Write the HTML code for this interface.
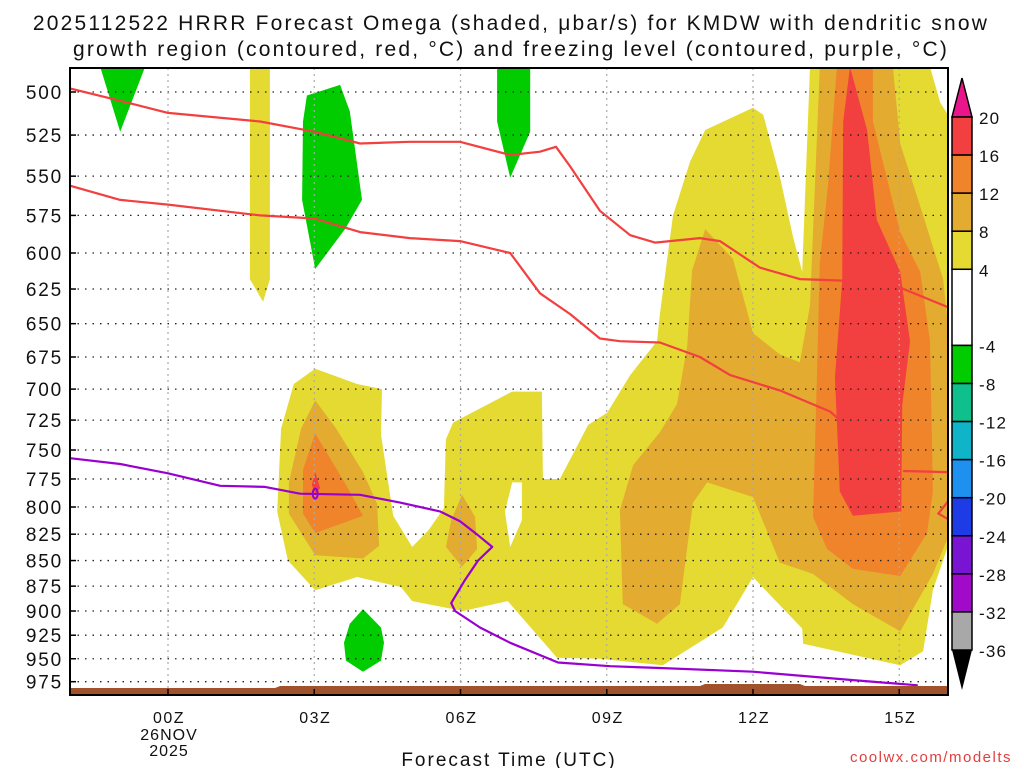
<!DOCTYPE html>
<html><head><meta charset="utf-8">
<style>
html,body{margin:0;padding:0;background:#fff;}
body{width:1024px;height:768px;overflow:hidden;font-family:"Liberation Sans",sans-serif;}
svg text{font-family:"Liberation Sans",sans-serif;}
</style></head>
<body>
<svg id="chart" width="1024" height="768" viewBox="0 0 1024 768" xmlns="http://www.w3.org/2000/svg">
<rect width="1024" height="768" fill="#fff"/>
<text x="511" y="30" text-anchor="middle" font-size="21" letter-spacing="2.2" fill="#111">2025112522 HRRR Forecast Omega (shaded, μbar/s) for KMDW with dendritic snow</text>
<text x="511" y="56" text-anchor="middle" font-size="21" letter-spacing="2.2" fill="#111">growth region (contoured, red, °C) and freezing level (contoured, purple, °C)</text>
<g id="fills"></g>
<g id="grid"></g>
<g id="lines"></g>
<g id="axes"></g>
<g id="cbar"></g>
<text x="509" y="766" text-anchor="middle" font-size="19" letter-spacing="2" fill="#111">Forecast Time (UTC)</text>
<text x="1012" y="762" text-anchor="end" font-size="15" fill="#e04040" letter-spacing="1.5">coolwx.com/modelts</text>
</svg>
<script>
// ---- data ----
const pressureTicks = [500,525,550,575,600,625,650,675,700,725,750,775,800,825,850,875,900,925,950,975];
const timeTicks = [0,3,6,9,12,15];
const timeTickLabels = ["00Z","03Z","06Z","09Z","12Z","15Z"];
const cbarLevels = [20,16,12,8,4,-4,-8,-12,-16,-20,-24,-28,-32,-36];
const cbarColors = ["#f23f3f","#ef842b","#e3ab30","#e4da32","#ffffff","#00cc00","#0fc08c","#10b4c8","#1e90f0","#1e3ce6","#7814d2","#a00ac8","#a8a8a8"];
// shaded regions: [hour, pressure hPa]
const yellowStrip = [[1.68,486],[2.09,486],[2.09,618],[1.95,634],[1.68,618]];
const greenTopLeft = [[-1.39,486],[-0.47,486],[-0.98,523]];
const green03Z = [[2.85,502],[3.53,496],[3.73,511],[3.98,565],[3.63,584],[3.02,611],[2.75,565],[2.77,517]];
const green07Z = [[6.75,486],[7.43,486],[7.43,523],[7.02,551],[6.75,517]];
const greenLow = [[4,898],[4.37,917],[4.43,933],[4.37,952],[4,964],[3.65,952],[3.61,933],[3.73,913]];
const yellowMain = [[2.58,696],[3.02,684],[3.88,696],[4.39,700],[4.37,737],[4.62,808],[5.01,837],[5.35,821],[5.66,801],[5.70,741],[5.85,727],[7.06,702],[7.67,702],[7.69,775],[8.04,775],[8.62,729],[9.01,719],[9.48,689],[10.03,663],[10.09,643],[10.36,575],[10.71,541],[11.02,522],[12,509],[12.21,513],[12.55,550],[12.82,589],[13.01,613],[13.17,486],[15.63,486],[15.84,506],[16,513],[16,836],[15.69,879],[15.49,942],[15.02,957],[13.03,934],[13.01,918],[12.49,891],[12,866],[11.67,893],[11.38,917],[10.15,957],[8.86,950],[7.98,949],[6.97,890],[6.05,900],[5.01,890],[4.78,876],[3.88,866],[3.02,879],[2.46,850],[2.24,804],[2.32,732]];
const yellowHole = [[6.91,804],[7.06,778],[7.26,778],[7.26,812],[7.02,837]];
const darkOrangeMain = [[9.27,803],[9.54,763],[10.09,735],[10.44,712],[10.65,667],[10.75,612],[11.02,584],[11.59,604],[12,657],[12.55,673],[12.96,679],[13.17,637],[13.37,486],[14.87,486],[15.02,530],[15.49,575],[15.9,618],[16,651],[16,828],[15.69,863],[15.02,921],[14.05,893],[13.23,863],[12.55,852],[12,791],[11.06,778],[10.77,796],[10.5,893],[10.03,913],[9.33,893]];
const orangeMain = [[13.72,486],[14.46,486],[14.46,517],[15.02,586],[15.43,613],[15.63,663],[15.69,786],[15.57,824],[15.02,865],[14.05,858],[13.52,839],[13.23,809],[13.31,691],[13.37,607],[13.54,555]];
const redMain = [[13.99,486],[14.34,522],[14.54,578],[15.02,613],[15.22,663],[15.06,713],[15.04,804],[14.05,808],[13.78,786],[13.72,726],[13.68,691],[13.83,619],[13.85,517]];
const darkOrangeLobe = [[3.02,709],[3.45,732],[4,769],[4.29,797],[4.33,836],[4,848],[3.02,845],[2.48,806],[2.48,778],[2.73,732]];
const orangeLobe = [[3.02,736],[3.65,780],[4,808],[3.02,824],[2.77,806],[2.77,767]];
const redLobe = [[3.02,769],[3.12,783],[3.02,788],[2.95,780]];
const darkOrangeMid = [[6.03,789],[6.3,809],[6.34,839],[6.03,856],[5.7,837],[5.81,812]];
// contour lines
const dgzUpper = [[-2.01,498],[-0.98,505],[0,512],[1.89,517],[3,523],[3.94,530],[4.96,529],[5.99,529],[7.02,537],[7.63,535],[7.96,532],[8.25,544],[8.86,572],[9.48,588],[9.99,593],[10.91,590],[11.32,592],[12.14,610],[12.96,618],[13.78,619],[15.02,624],[16,638]];
const dgzLower = [[-2.01,556],[-0.98,565],[0,568],[1.89,575],[3,577],[3.94,586],[4.96,590],[5.99,592],[7.02,600],[7.63,628],[8.25,643],[8.86,661],[9.27,663],[10.09,664],[10.91,675],[11.53,689],[12.55,701],[13.58,718],[13.78,725]];
const dgzPiece = [[15.08,768],[16,769]];
const dgzHook = [[16,795],[15.8,806],[16,811]];
const freezingLevel = [[-2.01,757],[-0.98,762],[0,770],[1.07,781],[1.99,782],[2.71,788],[3.94,789],[4.76,796],[5.58,804],[5.99,813],[6.36,826],[6.65,837],[6.36,850],[6.09,869],[5.81,892],[5.89,900],[6.4,917],[7.02,933],[8,954],[9.07,958],[10.09,960],[12,964],[13.99,973],[15.38,979]];

// ---- axes ----
const X0=70,X1=948,Y0=68,Y1=695;
const xScale = h => 168 + h*48.75;
const yScale = p => 92 + 883*Math.log(p/500);
const NS="http://www.w3.org/2000/svg";
function mk(tag, attrs, parent){const e=document.createElementNS(NS,tag);for(const k in attrs)e.setAttribute(k,attrs[k]);parent.appendChild(e);return e;}
const pts = arr => arr.map(d=>xScale(d[0]).toFixed(1)+","+yScale(d[1]).toFixed(1)).join(" ");

const fills=document.getElementById('fills');
const cp=mk('clipPath',{id:'pc'},fills);
mk('rect',{x:X0,y:Y0,width:X1-X0,height:Y1-Y0},cp);
const fg=mk('g',{'clip-path':'url(#pc)'},fills);
const shapes=[
 [yellowStrip,'#e4da32','yellow-strip'],[greenTopLeft,'#00cc00','green-top-left'],[green03Z,'#00cc00','green-03z'],
 [green07Z,'#00cc00','green-07z'],[greenLow,'#00cc00','green-low'],[yellowMain,'#e4da32','yellow-main'],
 [yellowHole,'#ffffff','yellow-hole'],[darkOrangeMain,'#e3ab30','dark-orange-main'],[orangeMain,'#ef842b','orange-main'],
 [redMain,'#f23f3f','red-main'],[darkOrangeLobe,'#e3ab30','dark-orange-lobe'],[orangeLobe,'#ef842b','orange-lobe'],
 [redLobe,'#f23f3f','red-lobe'],[darkOrangeMid,'#e3ab30','dark-orange-mid']];
shapes.forEach(s=>{
 const e=mk('polygon',{points:pts(s[0]),fill:s[1]},fg);
 
 
});

// grid
const grid=document.getElementById('grid');
pressureTicks.forEach(p=>{
 const e=mk('line',{x1:X0,x2:X1,y1:yScale(p),y2:yScale(p),stroke:'#222','stroke-width':1.3,'stroke-dasharray':'1.5 6'},grid);
 
 
});
timeTicks.forEach(h=>{
 const e=mk('line',{x1:xScale(h),x2:xScale(h),y1:Y0,y2:Y1,stroke:'#aaa','stroke-width':1.2,'stroke-dasharray':'2 4'},grid);
 
 
});

// lines
const lines=document.getElementById('lines');
const lg=mk('g',{'clip-path':'url(#pc)'},lines);
[[dgzUpper,'#f23f3f','dgz-upper'],[dgzLower,'#f23f3f','dgz-lower'],[dgzPiece,'#f23f3f','dgz-piece'],[dgzHook,'#f23f3f','dgz-hook'],[freezingLevel,'#9a00d0','freezing-level']].forEach(s=>{
 const e=mk('polyline',{points:pts(s[0]),fill:'none',stroke:s[1],'stroke-width':2.2,'stroke-linejoin':'round'},lg);
 
 
});
const ov=mk('ellipse',{cx:xScale(3.02),cy:yScale(788),rx:2.5,ry:5,fill:'none',stroke:'#9a00d0','stroke-width':2},lg);


const tr=mk('polygon',{points:`${X0},688 275,688 280,686 700,686 705,684 800,684 805,686 ${X1},686 ${X1},${Y1} ${X0},${Y1}`,fill:'#a0522d'},lg);



// axes
const axes=document.getElementById('axes');
mk('rect',{x:X0,y:Y0,width:X1-X0,height:Y1-Y0,fill:'none',stroke:'#000','stroke-width':2},axes);
pressureTicks.forEach(p=>{
 mk('line',{x1:X0,x2:X0+6,y1:yScale(p),y2:yScale(p),stroke:'#000','stroke-width':1.5},axes);
 const t=mk('text',{x:63,y:yScale(p)+7,'text-anchor':'end','font-size':19,'letter-spacing':1.8,fill:'#111'},axes);
 t.textContent=p;
 
 
});
timeTicks.forEach((h,i)=>{
 mk('line',{x1:xScale(h),x2:xScale(h),y1:Y1,y2:Y1-6,stroke:'#000','stroke-width':1.5},axes);
 const t=mk('text',{x:xScale(h)+1,y:723,'text-anchor':'middle','font-size':16,'letter-spacing':1.5,fill:'#111'},axes);
 t.textContent=timeTickLabels[i];
 
 
});
const d1=mk('text',{x:xScale(0)+1,y:740,'text-anchor':'middle','font-size':16,'letter-spacing':1,fill:'#111'},axes);d1.textContent='26NOV';


const d2=mk('text',{x:xScale(0)+1,y:756,'text-anchor':'middle','font-size':16,'letter-spacing':1,fill:'#111'},axes);d2.textContent='2025';



// colorbar
const cb=document.getElementById('cbar');
const cbY = v => 117 + (20 - v)/56*533;
const CX0=952,CX1=972;
const topTri=mk('polygon',{points:`${CX0},${cbY(20)} ${CX1},${cbY(20)} ${(CX0+CX1)/2},78`,fill:'#e8168a',stroke:'#000','stroke-width':1.5},cb);


for(let i=0;i<cbarColors.length;i++){
 const r=mk('rect',{x:CX0,y:cbY(cbarLevels[i]),width:CX1-CX0,height:cbY(cbarLevels[i+1])-cbY(cbarLevels[i]),fill:cbarColors[i],stroke:'#000','stroke-width':1.5},cb);
 
 
}
const botTri=mk('polygon',{points:`${CX0},${cbY(-36)} ${CX1},${cbY(-36)} ${(CX0+CX1)/2},690`,fill:'#000'},cb);


cbarLevels.forEach(v=>{
 const t=mk('text',{x:979,y:cbY(v)+7,'font-size':17,'letter-spacing':1.2,fill:'#111'},cb);
 t.textContent=v;
 
 
});
</script>
</body></html>
